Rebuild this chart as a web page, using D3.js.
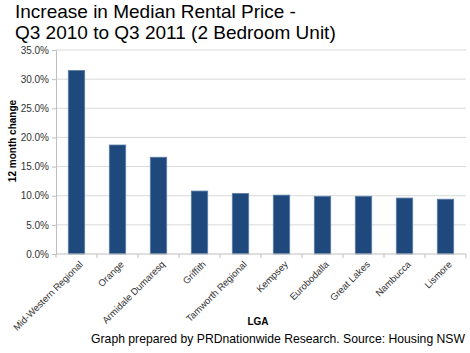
<!DOCTYPE html>
<html>
<head>
<meta charset="utf-8">
<script src="https://cdn.jsdelivr.net/npm/d3@7"></script>
<style>
  body { margin: 0; background: #fff; }
  text { font-family: "Liberation Sans", Arial, sans-serif; }
</style>
</head>
<body>
<script>
var categories = ['Mid-Western Regional', 'Orange', 'Armidale Dumaresq', 'Griffith', 'Tamworth Regional',
  'Kempsey', 'Eurobodalla', 'Great Lakes', 'Nambucca', 'Lismore']
var values = [31.5, 18.7, 16.6, 10.8, 10.4, 10.1, 9.9, 9.9, 9.6, 9.4]
var yTicks = [0, 5, 10, 15, 20, 25, 30, 35]

var width = 470, height = 353
var margin = {top: 50, right: 4, bottom: 99, left: 56}

var svg = d3.select('body').append('svg')
  .attr('width', width)
  .attr('height', height);

var x = d3.scaleBand()
  .domain(categories)
  .range([margin.left, width - margin.right])
  .paddingInner(0.6)
  .paddingOuter(0.3);

var y = d3.scaleLinear()
  .domain([0, 35])
  .range([height - margin.bottom, margin.top]);

// gridlines
svg.append('g')
  .selectAll('line')
  .data(yTicks.slice(1))
  .enter().append('line')
    .attr('x1', margin.left)
    .attr('x2', width - margin.right)
    .attr('y1', d => y(d))
    .attr('y2', d => y(d))
    .attr('stroke', '#d9d9d9')
    .attr('stroke-width', 1);

// y axis
var yAxis = svg.append('g')
  .attr('transform', 'translate(' + margin.left + ',0)')
  .call(d3.axisLeft(y).tickValues(yTicks).tickFormat(d => d.toFixed(1) + '%').tickSizeOuter(0).tickSize(4));
yAxis.select('.domain').attr('stroke', '#bfbfbf');
yAxis.selectAll('.tick line').attr('stroke', '#bfbfbf');
yAxis.selectAll('text')
  .attr('font-size', '10px')
  .attr('fill', '#333')
  .attr('x', -7)
  .style('font-family', '"Liberation Sans", Arial, sans-serif');

// bars
svg.append('g')
  .selectAll('rect')
  .data(values)
  .enter().append('rect')
    .attr('x', (d, i) => x(categories[i]))
    .attr('y', d => y(d))
    .attr('width', x.bandwidth())
    .attr('height', d => y(0) - y(d))
    .attr('fill', '#1f497d')
    .attr('stroke', '#5b7fa8')
    .attr('stroke-width', 0.8);

// x axis
var step = x.step();
var boundaries = categories.map((c, i) => margin.left + i * step).concat([width - margin.right]);
var base = y(0);
svg.append('line')
  .attr('x1', margin.left).attr('x2', width - margin.right)
  .attr('y1', base).attr('y2', base)
  .attr('stroke', '#bfbfbf');
svg.append('g')
  .selectAll('line')
  .data(boundaries)
  .enter().append('line')
    .attr('x1', d => d).attr('x2', d => d)
    .attr('y1', base).attr('y2', base + 4)
    .attr('stroke', '#bfbfbf');

svg.append('g')
  .selectAll('text')
  .data(categories)
  .enter().append('text')
    .attr('transform', d => 'translate(' + (x(d) + x.bandwidth() / 2 + 7) + ',' + (base + 11) + ') rotate(-45)')
    .attr('text-anchor', 'end')
    .attr('font-size', '9.5px')
    .attr('fill', '#333')
    .text(d => d);

// axis titles
svg.append('text')
  .attr('transform', 'translate(16,141) rotate(-90)')
  .attr('text-anchor', 'middle')
  .attr('font-size', '10px')
  .attr('font-weight', 'bold')
  .text('12 month change');

svg.append('text')
  .attr('x', 258).attr('y', 325)
  .attr('text-anchor', 'middle')
  .attr('font-size', '10px')
  .attr('font-weight', 'bold')
  .text('LGA');

// title
svg.append('text')
  .attr('x', 15).attr('y', 17.5)
  .attr('font-size', '19px')
  .text('Increase in Median Rental Price -');
svg.append('text')
  .attr('x', 15).attr('y', 39)
  .attr('font-size', '19px')
  .text('Q3 2010 to Q3 2011 (2 Bedroom Unit)');

// footer
svg.append('text')
  .attr('x', 465).attr('y', 343)
  .attr('text-anchor', 'end')
  .attr('font-size', '12.2px')
  .text('Graph prepared by PRDnationwide Research. Source: Housing NSW');
</script>
</body>
</html>
